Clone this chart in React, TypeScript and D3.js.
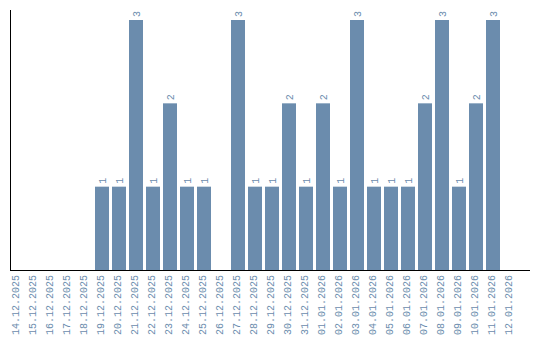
import React from "react";
import * as d3 from "d3";

const dates = [
  "14.12.2025","15.12.2025","16.12.2025","17.12.2025","18.12.2025","19.12.2025","20.12.2025",
  "21.12.2025","22.12.2025","23.12.2025","24.12.2025","25.12.2025","26.12.2025","27.12.2025",
  "28.12.2025","29.12.2025","30.12.2025","31.12.2025","01.01.2026","02.01.2026","03.01.2026",
  "04.01.2026","05.01.2026","06.01.2026","07.01.2026","08.01.2026","09.01.2026","10.01.2026",
  "11.01.2026","12.01.2026",
];
const counts = [0,0,0,0,0,1,1,3,1,2,1,1,0,3,1,1,2,1,2,1,3,1,1,1,2,3,1,2,3,0];

const W = 540, H = 340;
const color = "#6b8cad";
const font = "'Liberation Mono', monospace";

export default function App() {
  const x = d3.scaleBand<string>().domain(dates).range([10, 517]).paddingInner(3 / 17).paddingOuter(0);
  const y = d3.scaleLinear().domain([0, 3]).range([270, 20]);
  return (
    <svg width={W} height={H} style={{ position: "absolute", left: 0, top: 0 }}>
      {dates.map((d, i) => counts[i] > 0 ? (
        <rect key={d} x={x(d)} y={y(counts[i])} width={x.bandwidth()} height={y(0) - y(counts[i])} fill={color} />
      ) : null)}
      {dates.map((d, i) => counts[i] > 0 ? (
        <text key={"v" + d} transform={`translate(${x(d)! + x.bandwidth() / 2 + 3.5},${y(counts[i]) - 3}) rotate(-90)`}
          fontFamily={font} fontSize={10} fill={color}>{counts[i]}</text>
      ) : null)}
      <line x1={10.5} x2={10.5} y1={10} y2={270} stroke="#000" />
      <line x1={10} x2={530} y1={270.5} y2={270.5} stroke="#000" />
      {dates.map((d) => (
        <text key={"l" + d} transform={`translate(${x(d)! + x.bandwidth() / 2 + 1.5},${275}) rotate(-90)`}
          textAnchor="end" fontFamily={font} fontSize={10} fill={color}>{d}</text>
      ))}
    </svg>
  );
}
